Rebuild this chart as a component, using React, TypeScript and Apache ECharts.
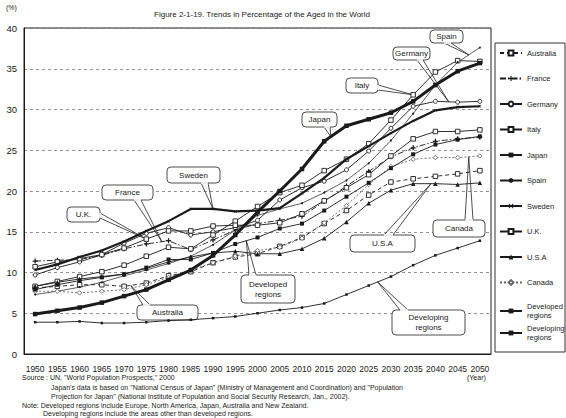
import React, { useEffect, useRef } from 'react';
import * as echarts from 'echarts';

// ---- data (percentage aged 65+) ----
const years = ['1950', '1955', '1960', '1965', '1970', '1975', '1980', '1985', '1990', '1995', '2000',
  '2005', '2010', '2015', '2020', '2025', '2030', '2035', '2040', '2045', '2050'];
const australia = [8.1, 8.3, 8.5, 8.5, 8.3, 8.7, 9.6, 10.1, 11.2, 11.9, 12.3, 13.2, 14.3, 16.0, 17.6, 19.5, 21.1, 21.5, 21.8, 22.1, 22.5];
const france = [11.4, 11.5, 11.6, 12.1, 12.9, 13.5, 13.9, 12.8, 14.0, 15.2, 16.0, 16.4, 16.9, 18.7, 20.6, 22.4, 24.2, 25.3, 26.1, 26.4, 26.6];
const germany = [9.7, 10.6, 11.3, 12.2, 13.6, 14.8, 15.5, 14.6, 15.0, 15.5, 16.4, 18.9, 20.4, 21.2, 22.6, 24.9, 27.7, 30.4, 31.0, 30.9, 31.0];
const italy = [8.3, 8.9, 9.5, 10.1, 10.9, 12.0, 13.1, 12.9, 14.6, 16.3, 18.1, 19.8, 20.7, 22.5, 23.9, 25.8, 28.7, 31.8, 34.6, 36.0, 35.9];
const japan = [4.9, 5.3, 5.7, 6.3, 7.1, 7.9, 9.1, 10.3, 12.1, 14.6, 17.4, 20.0, 22.7, 26.1, 28.0, 28.8, 29.6, 31.0, 33.0, 34.7, 35.7];
const spain = [7.3, 7.7, 8.2, 8.8, 9.6, 10.3, 11.1, 12.0, 13.4, 15.2, 17.0, 17.8, 18.5, 19.8, 21.3, 23.4, 26.2, 29.5, 33.0, 35.8, 37.6];
const sweden = [10.3, 11.0, 11.9, 12.7, 13.8, 15.1, 16.3, 17.8, 17.8, 17.5, 17.6, 17.9, 19.7, 21.6, 23.9, 25.5, 27.1, 28.6, 29.9, 30.3, 30.4];
const uk = [10.7, 11.3, 11.7, 12.2, 13.0, 14.1, 15.1, 15.1, 15.7, 15.8, 15.8, 16.1, 17.2, 18.8, 20.4, 22.0, 24.3, 26.4, 27.3, 27.3, 27.5];
const usa = [8.3, 8.8, 9.2, 9.5, 9.8, 10.5, 11.3, 11.9, 12.4, 12.6, 12.3, 12.3, 12.9, 14.2, 16.2, 18.5, 20.1, 20.9, 20.9, 20.8, 21.0];
const canada = [7.7, 7.7, 7.5, 7.7, 7.9, 8.5, 9.4, 10.3, 11.2, 12.0, 12.7, 13.1, 14.2, 16.1, 18.2, 20.8, 23.0, 23.9, 24.1, 24.1, 24.3];
const developed = [7.9, 8.5, 9.0, 9.4, 9.8, 10.6, 11.6, 11.6, 12.4, 13.5, 14.3, 15.4, 16.0, 17.6, 19.3, 21.0, 22.8, 24.5, 25.7, 26.3, 26.7];
const developing = [3.9, 3.9, 4.0, 3.8, 3.8, 3.9, 4.1, 4.2, 4.4, 4.6, 5.0, 5.4, 5.7, 6.2, 7.3, 8.4, 9.5, 10.9, 12.1, 13.0, 13.9];

const titleText = 'Figure 2-1-19. Trends in Percentage of the Aged in the World';
const footnotes = [
  'Source : UN, "World Population Prospects," 2000',
  'Japan\'s data is based on "National Census of Japan" (Ministry of Management and Coordination) and "Population',
  'Projection for Japan" (National Institute of Population and Social Security Research, Jan., 2002).',
  'Note: Developed regions include Europe, North America, Japan, Australia and New Zealand.',
  'Developing regions include the areas other than developed regions.',
];

const FONT = "'Liberation Sans Narrow', 'Arial Narrow', 'Liberation Sans', Arial, sans-serif";
const PLUS = 'path://M3,0H5V3H8V5H5V8H3V5H0V3H3Z';
const CROSS = 'path://M0,1L1,0L4,3L7,0L8,1L5,4L8,7L7,8L4,5L1,8L0,7L3,4Z';
const INK = '#1a1a1a';

export default function App() {
  const ref = useRef<HTMLDivElement>(null);
  useEffect(() => {
    const chart = echarts.init(ref.current!, null, { renderer: 'svg' });
    const mk = (name: string, data: number[], o: any) => {
      const c = o.color || INK;
      return {
        name,
        type: 'line',
        data,
        symbol: o.symbol,
        symbolSize: o.size,
        showSymbol: true,
        lineStyle: { color: c, width: o.width || 0.9, type: o.type || 'solid' },
        itemStyle: o.hollow
          ? { color: '#fff', borderColor: c, borderWidth: 0.9 }
          : { color: c, borderWidth: 0 },
        z: o.z || 2,
        emphasis: { disabled: true },
      };
    };
    const series = [
      mk('Australia', australia, { symbol: 'rect', hollow: true, size: 4.5, type: [4, 3] }),
      mk('France', france, { symbol: PLUS, size: 5, type: [6, 2, 1.5, 2] }),
      mk('Germany', germany, { symbol: 'circle', hollow: true, size: 4 }),
      mk('Italy', italy, { symbol: 'rect', hollow: true, size: 4.5 }),
      mk('Japan', japan, { symbol: 'rect', size: 4.5, width: 3, z: 5 }),
      mk('Spain', spain, { symbol: 'circle', size: 2, width: 0.7 }),
      mk('Sweden', sweden, { symbol: CROSS, size: 3, width: 2.2, z: 4 }),
      mk('U.K.', uk, { symbol: 'rect', hollow: true, size: 4.5 }),
      mk('U.S.A', usa, { symbol: 'triangle', size: 4.5 }),
      mk('Canada', canada, { symbol: 'diamond', hollow: true, size: 4.5, color: '#666', type: [2, 2] }),
      mk('Developed regions', developed, { symbol: 'rect', size: 4 }),
      mk('Developing regions', developing, { symbol: 'rect', size: 2.5 }),
    ];
    const names = series.map((s) => s.name);
    const legendText = { fontSize: 7.5, color: INK, fontFamily: FONT };
    chart.setOption({
      animation: false,
      backgroundColor: '#fff',
      textStyle: { fontFamily: FONT },
      grid: { left: 24, right: 75, top: 28, bottom: 64, show: true, borderColor: '#222', borderWidth: 1 },
      xAxis: {
        type: 'category',
        data: years,
        boundaryGap: true,
        axisLine: { lineStyle: { color: INK, width: 1 } },
        axisTick: { alignWithLabel: true, inside: true, length: 3, lineStyle: { color: INK } },
        axisLabel: { fontSize: 8.5, color: INK, margin: 10, interval: 0, fontFamily: FONT },
        splitLine: { show: false },
      },
      yAxis: {
        type: 'value',
        min: 0,
        max: 40,
        interval: 5,
        axisLine: { show: true, lineStyle: { color: INK, width: 1 } },
        axisTick: { show: false },
        axisLabel: { fontSize: 9.5, color: INK, margin: 7, fontFamily: FONT },
        splitLine: { show: true, lineStyle: { color: '#777', type: [3, 3], width: 0.8 } },
      },
      legend: [
        {
          data: names.slice(0, 10), orient: 'vertical', left: 499, top: 48, itemWidth: 22, itemHeight: 6,
          itemGap: 15.5, padding: 0, selectedMode: false, textStyle: { ...legendText, lineHeight: 10 },
        },
        {
          data: names.slice(10), orient: 'vertical', left: 499, top: 302, itemWidth: 22, itemHeight: 6,
          itemGap: 4, padding: 0, selectedMode: false, textStyle: { ...legendText, lineHeight: 9 },
          formatter: (n: string) => n.replace(' ', '\n'),
        },
      ],
      series,
    });

    const px = (data: number[], idx: number) => {
      const i0 = Math.min(Math.floor(idx), data.length - 2);
      const f = idx - i0;
      const a = chart.convertToPixel({ gridIndex: 0 }, [years[i0], data[i0]]) as number[];
      const b = chart.convertToPixel({ gridIndex: 0 }, [years[i0 + 1], data[i0 + 1]]) as number[];
      return [a[0] + (b[0] - a[0]) * f, a[1] + (b[1] - a[1]) * f];
    };

    // callouts: box [x, y, w, h], base points on the box edge, tip on a series
    const callouts: any[] = [
      { text: 'Spain', box: [430, 30, 33, 13], base: [[444, 43], [451, 43]], tip: px(spain, 19.5) },
      { text: 'Germany', box: [393, 47, 37, 13], base: [[417, 60], [423, 60]], tip: px(germany, 18.6) },
      { text: 'Italy', box: [346, 78, 32, 15], base: [[378, 85], [378, 90]], tip: px(italy, 17) },
      { text: 'Japan', box: [302, 112, 35, 15], base: [[324, 127], [330, 127]], tip: px(japan, 13.3) },
      { text: 'Sweden', box: [167, 167, 53, 16], base: [[201, 183], [208, 183]], tip: px(sweden, 8) },
      { text: 'France', box: [102, 185, 51, 15], base: [[134, 200], [141, 200]], tip: px(france, 5.7) },
      { text: 'U.K.', box: [67, 207, 33, 15], base: [[100, 213], [100, 218]], tip: px(uk, 5) },
      { text: 'Australia', box: [137, 305, 61, 15], base: [[143, 305], [150, 305]], tip: px(australia, 4.3) },
      { text: 'Developed\nregions', box: [241, 275, 54, 28], base: [[249, 275], [256, 275]], tip: px(developed, 9.5) },
      { text: 'U.S.A', box: [350, 235, 65, 17], base: [[384, 235], [393, 235]], tip: px(usa, 17.8) },
      { text: 'Canada', box: [433, 220, 52, 17], base: [[465, 220], [473, 220]], tip: px(canada, 19.5) },
      { text: 'Developing\nregions', box: [392, 310, 73, 25], base: [[400, 310], [408, 310]], tip: px(developing, 15.4) },
    ];
    const stroke = { stroke: '#222', lineWidth: 0.8 };
    const graphic: any[] = [];
    callouts.forEach((c) => {
      const [x, y, w, h] = c.box;
      graphic.push({ type: 'polyline', shape: { points: [c.base[0], c.tip, c.base[1]] }, style: { ...stroke, fill: 'none' } });
      graphic.push({ type: 'rect', shape: { x, y, width: w, height: h, r: 4 }, style: { ...stroke, fill: '#fff' } });
      graphic.push({
        type: 'line',
        shape: { x1: c.base[0][0], y1: c.base[0][1], x2: c.base[1][0], y2: c.base[1][1] },
        style: { stroke: '#fff', lineWidth: 1.6 },
      });
      graphic.push({
        type: 'text', x: x + w / 2, y: y + h / 2,
        style: { text: c.text, fontSize: 8, lineHeight: 10, fill: INK, fontFamily: FONT, align: 'center', verticalAlign: 'middle', textAlign: 'center', textVerticalAlign: 'middle' },
      });
    });
    // legend frame
    graphic.push({ type: 'rect', shape: { x: 495, y: 43, width: 70, height: 309 }, style: { stroke: '#333', lineWidth: 1, fill: 'none' } });
    // title, units, footnotes
    const txt = (text: string, x: number, y: number, size: number, align = 'left') => ({
      type: 'text', x, y,
      style: { text, fontSize: size, fill: INK, fontFamily: FONT, align, verticalAlign: 'middle', textAlign: align, textVerticalAlign: 'middle' },
    });
    graphic.push(txt(titleText, 262, 14, 8, 'center'));
    graphic.push(txt('(%)', 6, 7, 7));
    graphic.push(txt('(Year)', 467, 377, 7));
    graphic.push(txt(footnotes[0], 22, 377, 7));
    graphic.push(txt(footnotes[1], 51, 387, 7));
    graphic.push(txt(footnotes[2], 51, 396, 7));
    graphic.push(txt(footnotes[3], 22, 405, 7));
    graphic.push(txt(footnotes[4], 43, 413.5, 7));
    chart.setOption({ graphic });
    return () => chart.dispose();
  }, []);
  return <div ref={ref} style={{ width: 566, height: 418, position: 'absolute', left: 0, top: 0 }} />;
}
